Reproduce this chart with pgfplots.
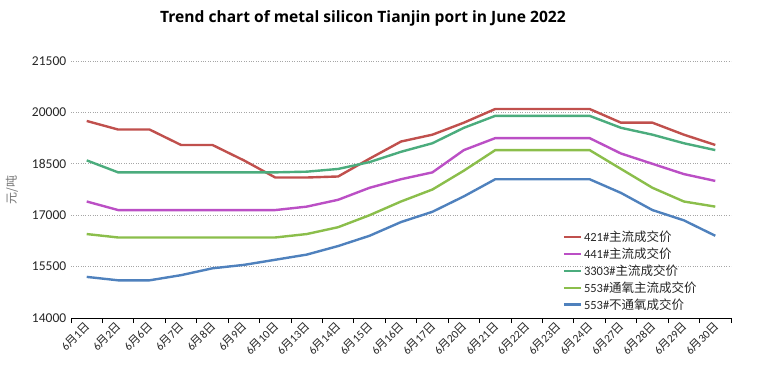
\documentclass[border=0pt]{standalone}
\usepackage{fontspec}
\usepackage{pgfplots}
\pgfplotsset{compat=1.18}
\setmainfont{Carlito}
\newfontfamily\cjk{Noto Sans CJK SC}
\newfontfamily\titlefont{Open Sans}
\definecolor{cRed}{RGB}{192,80,77}
\definecolor{cMag}{RGB}{187,79,197}
\definecolor{cGreen}{RGB}{75,172,125}
\definecolor{cLime}{RGB}{139,190,75}
\definecolor{cBlue}{RGB}{79,129,189}
\newcommand{\dd}[1]{6{\cjk 月}#1{\cjk 日}}
\begin{document}
\begin{tikzpicture}
\useasboundingbox (0,0) rectangle (760pt,373pt);
\node[font=\titlefont\bfseries\fontsize{15.6}{18}\selectfont] at (363pt,355pt) {Trend chart of metal silicon Tianjin port in June 2022};
\node[rotate=90, text=black!55, font=\cjk\fontsize{12}{14}\selectfont] at (12pt,183pt) {元/吨};
\begin{axis}[
  at={(71pt,55pt)}, anchor=south west, scale only axis,
  width=660pt, height=257pt,
  xmin=0, xmax=21, ymin=14000, ymax=21500,
  ytick={14000,15500,17000,18500,20000,21500},
  scaled y ticks=false,
  yticklabel={\pgfmathprintnumber[fixed,precision=0,1000 sep={}]{\tick}},
  /pgf/number format/assume math mode=true,
  yticklabel style={font=\fontsize{13.5}{15}\selectfont, text=black!85, xshift=3pt},
  ymajorgrids, grid style={black!35, dotted, line width=0.8pt},
  axis x line*=bottom, axis y line*=left,
  y axis line style={draw=none},
  x axis line style={black, line width=0.8pt},
  ytick style={draw=none},
  xtick={0.5,1.5,...,20.5},
  xticklabels={\dd{1},\dd{2},\dd{6},\dd{7},\dd{8},\dd{9},\dd{10},\dd{13},\dd{14},\dd{15},\dd{16},\dd{17},\dd{20},\dd{21},\dd{22},\dd{23},\dd{24},\dd{27},\dd{28},\dd{29},\dd{30}},
  major x tick style={draw=none},
  minor xtick={0,1,...,21},
  minor x tick style={black, line width=0.8pt},
  minor tick length=5pt,
  tick align=outside,
  xticklabel style={rotate=45, anchor=east, font=\fontsize{11.5}{13}\selectfont, text=black!85, xshift=3pt, yshift=-2pt},
  legend style={at={(0.74,0.355)}, anchor=north west, draw=none, fill=none,
    font=\fontsize{12.5}{14}\selectfont, row sep=0.8pt, text=black!85},
  legend cell align=left,
  legend image code/.code={\draw[#1, line width=2.4pt] (0pt,0pt) -- (17pt,0pt);},
  every axis plot/.append style={line width=2.4pt, no markers},
]
\addplot[cRed] coordinates {(0.5,19750)(1.5,19500)(2.5,19500)(3.5,19050)(4.5,19050)(5.5,18600)(6.5,18100)(7.5,18100)(8.5,18130)(9.5,18650)(10.5,19150)(11.5,19350)(12.5,19700)(13.5,20100)(14.5,20100)(15.5,20100)(16.5,20100)(17.5,19700)(18.5,19700)(19.5,19350)(20.5,19050)};
\addlegendentry{421\#{\cjk 主流成交价}}
\addplot[cMag] coordinates {(0.5,17400)(1.5,17150)(2.5,17150)(3.5,17150)(4.5,17150)(5.5,17150)(6.5,17150)(7.5,17250)(8.5,17450)(9.5,17800)(10.5,18050)(11.5,18250)(12.5,18900)(13.5,19250)(14.5,19250)(15.5,19250)(16.5,19250)(17.5,18800)(18.5,18500)(19.5,18200)(20.5,18000)};
\addlegendentry{441\#{\cjk 主流成交价}}
\addplot[cGreen] coordinates {(0.5,18600)(1.5,18250)(2.5,18250)(3.5,18250)(4.5,18250)(5.5,18250)(6.5,18250)(7.5,18270)(8.5,18350)(9.5,18550)(10.5,18850)(11.5,19100)(12.5,19550)(13.5,19900)(14.5,19900)(15.5,19900)(16.5,19900)(17.5,19550)(18.5,19350)(19.5,19100)(20.5,18900)};
\addlegendentry{3303\#{\cjk 主流成交价}}
\addplot[cLime] coordinates {(0.5,16450)(1.5,16350)(2.5,16350)(3.5,16350)(4.5,16350)(5.5,16350)(6.5,16350)(7.5,16450)(8.5,16650)(9.5,17000)(10.5,17400)(11.5,17750)(12.5,18300)(13.5,18900)(14.5,18900)(15.5,18900)(16.5,18900)(17.5,18350)(18.5,17800)(19.5,17400)(20.5,17250)};
\addlegendentry{553\#{\cjk 通氧主流成交价}}
\addplot[cBlue] coordinates {(0.5,15200)(1.5,15100)(2.5,15100)(3.5,15250)(4.5,15450)(5.5,15550)(6.5,15700)(7.5,15850)(8.5,16100)(9.5,16400)(10.5,16800)(11.5,17100)(12.5,17550)(13.5,18050)(14.5,18050)(15.5,18050)(16.5,18050)(17.5,17650)(18.5,17150)(19.5,16850)(20.5,16400)};
\addlegendentry{553\#{\cjk 不通氧成交价}}
\end{axis}
\end{tikzpicture}
\end{document}
